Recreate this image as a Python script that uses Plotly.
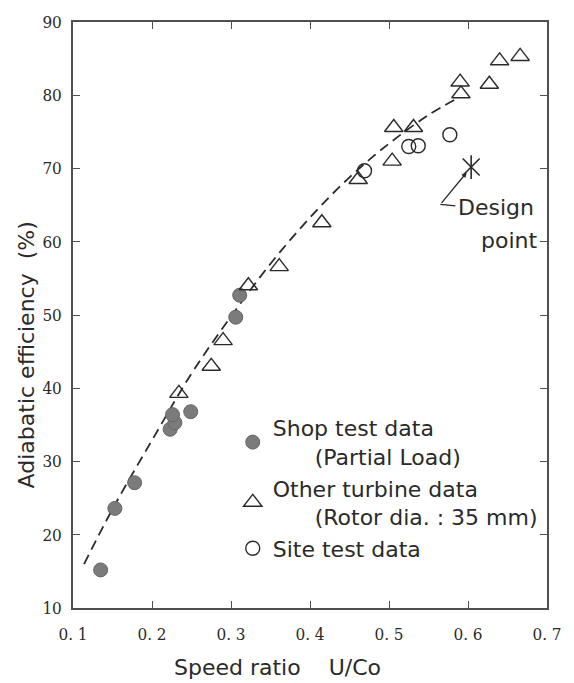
import plotly.graph_objects as go

# Shop test data (partial load)
shop_x = [0.135, 0.153, 0.178, 0.223, 0.229, 0.226, 0.249, 0.306, 0.311]
shop_y = [15.2, 23.6, 27.1, 34.4, 35.3, 36.4, 36.8, 49.7, 52.7]

# Other turbine data (rotor dia. 35 mm)
other_x = [0.234, 0.275, 0.290, 0.322, 0.361, 0.415, 0.461, 0.504, 0.506,
           0.531, 0.590, 0.591, 0.627, 0.640, 0.666]
other_y = [39.3, 43.0, 46.5, 54.0, 56.6, 62.6, 68.5, 71.0, 75.6,
           75.6, 81.8, 80.2, 81.5, 84.7, 85.3]

# Site test data
site_x = [0.469, 0.525, 0.537, 0.577]
site_y = [69.7, 73.0, 73.1, 74.6]

# Design point
design_x = [0.604]
design_y = [70.2]

# Trend curve (dashed)
trend_x = [0.114, 0.15, 0.2, 0.25, 0.3, 0.35, 0.4, 0.45, 0.5, 0.55, 0.585]
trend_y = [16.0, 23.5, 32.9, 42.0, 49.8, 57.0, 63.3, 68.8, 73.4, 77.3, 79.5]

x_ticks = [0.1, 0.2, 0.3, 0.4, 0.5, 0.6, 0.7]
x_ticktext = ["0. 1", "0. 2", "0. 3", "0. 4", "0. 5", "0. 6", "0. 7"]
y_ticks = [10, 20, 30, 40, 50, 60, 70, 80, 90]

INK = "#2a2a2a"
TEXT_FONT = dict(family="DejaVu Sans", size=22, color=INK)
TICK_FONT = dict(family="DejaVu Serif Condensed, Liberation Serif", size=17, color=INK)
NB = "\u00a0"

fig = go.Figure()

fig.add_trace(go.Scatter(
    x=trend_x, y=trend_y, mode="lines", line_shape="spline",
    line=dict(color=INK, width=1.8, dash="10px,6px"),
    showlegend=False, hoverinfo="skip"))

fig.add_trace(go.Scatter(
    x=shop_x, y=shop_y, mode="markers",
    name="Shop test data<br>" + NB * 6 + "(Partial Load)",
    marker=dict(symbol="circle", size=14, color="#7b7b7b",
                line=dict(color="#666666", width=1))))

fig.add_trace(go.Scatter(
    x=other_x, y=other_y, mode="markers",
    name="Other turbine data<br>" + NB * 6 + "(Rotor dia. : 35 mm)",
    marker=dict(symbol="triangle-up-open", size=16, color=INK,
                line=dict(color=INK, width=1.4))))

fig.add_trace(go.Scatter(
    x=site_x, y=site_y, mode="markers", name="Site test data",
    marker=dict(symbol="circle-open", size=14, color=INK,
                line=dict(color=INK, width=1.4))))

# Design point star: vertical stroke plus two diagonals
for sym in ["line-ns-open", "x-thin-open"]:
    fig.add_trace(go.Scatter(
        x=design_x, y=design_y, mode="markers", showlegend=False,
        marker=dict(symbol=sym, size=17, color=INK, line=dict(color=INK, width=1.6))))

# Leader from the label to the design point
fig.add_annotation(x=design_x[0], y=design_y[0], ax=0.565, ay=65.1,
                   axref="x", ayref="y", xref="x", yref="y", text="",
                   showarrow=True, arrowhead=2, arrowsize=0.8, arrowwidth=1.3,
                   arrowcolor=INK, standoff=7)
fig.add_shape(type="line", x0=0.565, y0=65.1, x1=0.584, y1=64.9,
              xref="x", yref="y", line=dict(color=INK, width=1.3))
fig.add_annotation(x=0.585, y=64.7, xref="x", yref="y", text="Design",
                   showarrow=False, xanchor="left", yanchor="middle", font=TEXT_FONT)
fig.add_annotation(x=0.652, y=60.2, xref="x", yref="y", text="point",
                   showarrow=False, xanchor="center", yanchor="middle", font=TEXT_FONT)

# Axis titles
fig.add_annotation(x=-0.098, y=0.432, xref="paper", yref="paper",
                   text="Adiabatic efficiency" + NB * 2 + "(%)", textangle=-90,
                   showarrow=False, xanchor="center", yanchor="middle", font=TEXT_FONT)
fig.add_annotation(x=0.432, y=-0.1015, xref="paper", yref="paper",
                   text="Speed ratio" + NB * 4 + "U/Co",
                   showarrow=False, xanchor="center", yanchor="middle", font=TEXT_FONT)

axis_common = dict(showgrid=False, zeroline=False, showline=True, linecolor="#505050",
                   linewidth=1.5, mirror="ticks", ticks="inside", ticklen=7,
                   tickwidth=1.4, tickcolor="#505050", tickfont=TICK_FONT)

fig.update_xaxes(range=[0.1, 0.7], tickvals=x_ticks, ticktext=x_ticktext,
                 ticklabelstandoff=10, **axis_common)
fig.update_yaxes(range=[10, 90], tickvals=y_ticks, ticklabelstandoff=6, **axis_common)

fig.update_layout(
    width=574, height=683,
    margin=dict(l=73, r=20, t=17, b=75),
    paper_bgcolor="white", plot_bgcolor="white",
    legend=dict(x=0.337, y=0.343, xanchor="left", yanchor="top",
                bgcolor="rgba(0,0,0,0)", font=TEXT_FONT, valign="middle",
                itemsizing="trace", tracegroupgap=0),
)

fig.write_html("out.html")
